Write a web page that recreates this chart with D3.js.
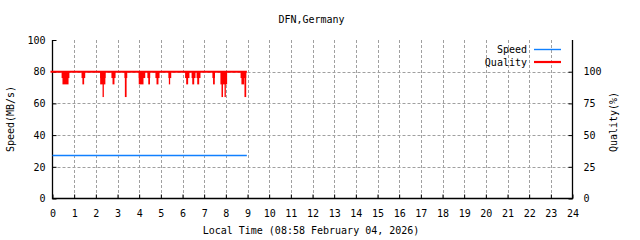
<!DOCTYPE html>
<html>
<head>
<meta charset="utf-8">
<script src="https://cdn.jsdelivr.net/npm/d3@7"></script>
<style>
  body { margin: 0; background: #fff; }
  text { font-family: "DejaVu Sans Mono", monospace; font-size: 10px; fill: #000; }
</style>
</head>
<body>
<svg width="640" height="240"></svg>
<script>
// hours on the x axis
var hourTicks = d3.range(0, 25);
var speedTicks = [0, 20, 40, 60, 80, 100];
var qualityTicks = [0, 25, 50, 75, 100];

// speed (MB/s), flat over the measured part of the day
var speedSeries = [[0, 27.6], [8.97, 27.6]];

// quality baseline is 100 over the same span
var qualitySpan = [0, 8.97];

// dips in quality: [start hour, end hour, quality]
var qualityDips = [
  [0.42, 0.78, 95], [0.46, 0.74, 90],
  [1.34, 1.51, 95], [1.38, 1.46, 90],
  [2.20, 2.45, 95], [2.20, 2.44, 90], [2.31, 2.37, 80],
  [2.72, 2.91, 95], [2.77, 2.86, 90],
  [3.32, 3.45, 95], [3.34, 3.42, 80],
  [3.98, 4.28, 95], [3.98, 4.20, 90],
  [4.38, 4.51, 95], [4.42, 4.50, 90],
  [4.75, 4.94, 95], [4.80, 4.89, 90],
  [5.35, 5.48, 95], [5.37, 5.43, 90],
  [6.12, 6.32, 95], [6.17, 6.26, 90],
  [6.42, 6.60, 95], [6.45, 6.54, 90],
  [6.65, 6.83, 95], [6.68, 6.77, 90],
  [7.38, 7.50, 95], [7.41, 7.49, 90],
  [7.75, 8.06, 90], [7.80, 7.87, 80], [7.94, 8.00, 80],
  [8.68, 8.94, 95], [8.72, 8.85, 90], [8.86, 8.94, 80]
];

var speedColor = "#1080ff", qualityColor = "#ff0000";

var svg = d3.select("svg"),
    plotL = 52.5, plotR = 572.5, plotT = 40, plotB = 198.5;

var x = d3.scaleLinear().domain([0, 24]).range([plotL, plotR]);
var yS = d3.scaleLinear().domain([0, 100]).range([plotB, plotT]);
var yQ = d3.scaleLinear().domain([0, 125]).range([plotB, plotT]);

// grid
svg.append("g")
    .selectAll("line")
    .data(hourTicks.slice(1, -1))
    .enter().append("line")
    .attr("x1", function(d) { return Math.round(x(d)) + 0.5; })
    .attr("x2", function(d) { return Math.round(x(d)) + 0.5; })
    .attr("y1", plotT).attr("y2", plotB)
    .attr("stroke", "#a0a0a0").attr("stroke-dasharray", "3,2");

svg.append("g")
    .selectAll("line")
    .data(speedTicks.slice(1, -1))
    .enter().append("line")
    .attr("x1", plotL).attr("x2", plotR)
    .attr("y1", function(d) { return Math.round(yS(d)) + 0.5; })
    .attr("y2", function(d) { return Math.round(yS(d)) + 0.5; })
    .attr("stroke", "#a0a0a0").attr("stroke-dasharray", "3,2");

// axes (left, bottom, right)
var axisY = d3.axisLeft(yS).tickValues(speedTicks).tickSize(-4).tickPadding(7);
svg.append("g").attr("transform", "translate(" + plotL + ",0)").call(axisY);

var axisX = d3.axisBottom(x).tickValues(hourTicks).tickSize(-4).tickPadding(11);
svg.append("g").attr("transform", "translate(0," + plotB + ")").call(axisX);

var axisR = d3.axisRight(yQ).tickValues(qualityTicks).tickSize(-4).tickPadding(11);
svg.append("g").attr("transform", "translate(" + plotR + ",0)").call(axisR);

svg.selectAll("g").attr("font-family", null).attr("font-size", null);
svg.selectAll(".domain").remove();
svg.append("path")
    .attr("d", "M" + plotL + "," + plotT + "V" + plotB + "H" + plotR + "V" + plotT)
    .attr("fill", "none").attr("stroke", "#000").attr("stroke-width", 1.3);

// speed
svg.append("path")
    .datum(speedSeries)
    .attr("d", d3.line().x(function(d) { return x(d[0]); }).y(function(d) { return Math.round(yS(d[1])) + 0.5; }))
    .attr("fill", "none").attr("stroke", speedColor).attr("stroke-width", 1.4);

// quality
svg.append("g")
    .selectAll("rect")
    .data(qualityDips)
    .enter().append("rect")
    .attr("x", function(d) { return x(d[0]); })
    .attr("width", function(d) { return x(d[1]) - x(d[0]); })
    .attr("y", yQ(100))
    .attr("height", function(d) { return yQ(d[2]) - yQ(100); })
    .attr("fill", qualityColor);

svg.append("line")
    .attr("x1", x(qualitySpan[0]) - 2).attr("x2", x(qualitySpan[1]))
    .attr("y1", yQ(100)).attr("y2", yQ(100))
    .attr("stroke", qualityColor).attr("stroke-width", 2);

// titles
svg.append("text").attr("x", 311.5).attr("y", 23).attr("text-anchor", "middle").text("DFN,Germany");
svg.append("text").attr("x", 311).attr("y", 234).attr("text-anchor", "middle").text("Local Time (08:58 February 04, 2026)");
svg.append("text").attr("transform", "translate(14,119) rotate(-90)").attr("text-anchor", "middle").text("Speed(MB/s)");
svg.append("text").attr("transform", "translate(617,122) rotate(-90)").attr("text-anchor", "middle").text("Quality(%)");

// legend
var legend = [["Speed", speedColor, 1.4, 49.5], ["Quality", qualityColor, 2.2, 62]];
legend.forEach(function(l) {
  svg.append("text").attr("x", 527).attr("y", l[3] + 3.5).attr("text-anchor", "end").text(l[0]);
  svg.append("line").attr("x1", 534).attr("x2", 561).attr("y1", l[3]).attr("y2", l[3])
      .attr("stroke", l[1]).attr("stroke-width", l[2]);
});
</script>
</body>
</html>
